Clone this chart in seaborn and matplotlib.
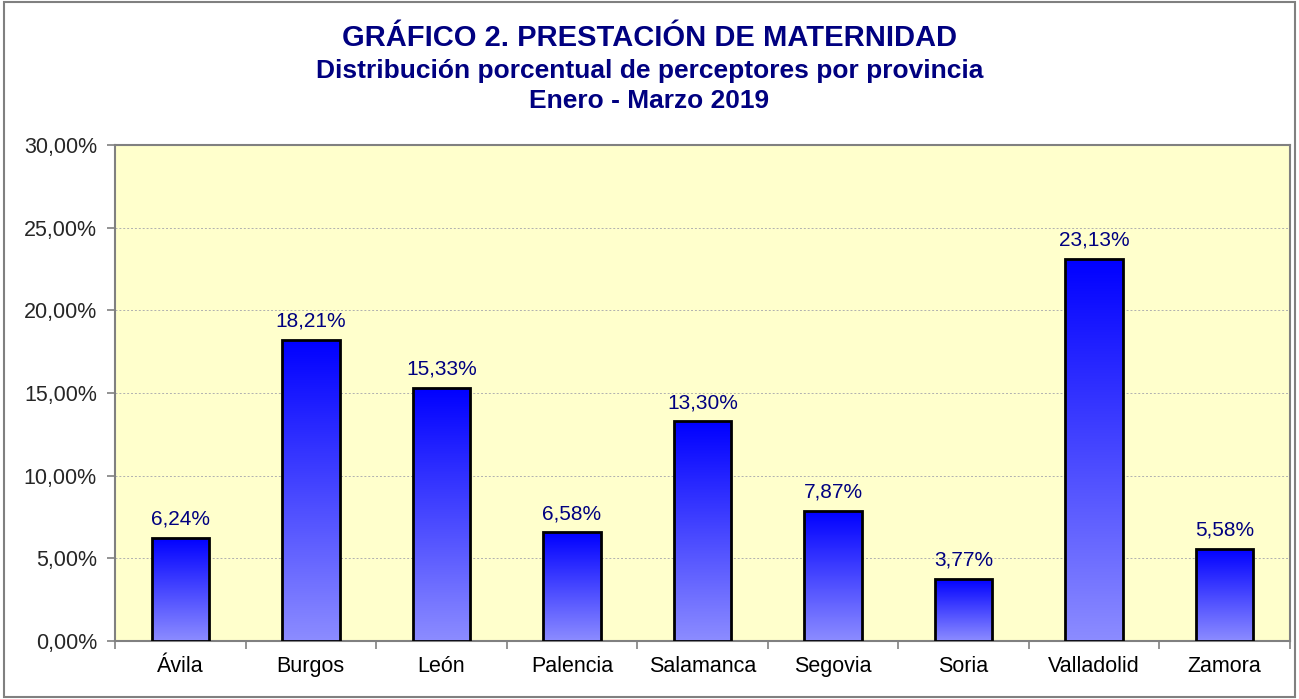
import matplotlib
matplotlib.use("Agg")
import matplotlib.pyplot as plt
import numpy as np
import pandas as pd
import seaborn as sns
from matplotlib.colors import LinearSegmentedColormap
from matplotlib.patches import Rectangle
from matplotlib.ticker import FuncFormatter, FixedLocator

provincias = ["Ávila", "Burgos", "León", "Palencia", "Salamanca", "Segovia", "Soria", "Valladolid", "Zamora"]
porcentajes = [6.24, 18.21, 15.33, 6.58, 13.30, 7.87, 3.77, 23.13, 5.58]

titulo = "GRÁFICO 2. PRESTACIÓN DE MATERNIDAD"
subtitulo = "Distribución porcentual de perceptores por provincia"
periodo = "Enero - Marzo 2019"

sns.set_style("white")
plt.rcParams["font.family"] = ["Liberation Sans", "DejaVu Sans"]

df = pd.DataFrame({"Provincia": provincias, "Porcentaje": porcentajes})

fig = plt.figure(figsize=(12.99, 6.99), dpi=100)
ax = fig.add_axes([0.0885, 0.083, 0.9045, 0.7095])
ax.set_facecolor("#FFFFCC")

sns.barplot(data=df, x="Provincia", y="Porcentaje", color="#0000FF", width=0.44, ax=ax, zorder=3)

# degradado vertical en cada barra
azul = LinearSegmentedColormap.from_list("azul", ["#8C8CFF", "#0000FF"])
grad = np.linspace(0, 1, 256).reshape(-1, 1)
for p in ax.patches:
    x0, y0 = p.get_x(), p.get_y()
    w, h = p.get_width(), p.get_height()
    im = ax.imshow(grad, extent=[x0, x0 + w, y0, y0 + h], origin="lower", aspect="auto",
                   cmap=azul, zorder=3)
    im.set_clip_path(p)
    p.set_facecolor("none")
    p.set_edgecolor("black")
    p.set_linewidth(2.0)
    p.set_zorder(4)
    ax.text(x0 + w / 2, h + 0.55, f"{h:.2f}%".replace(".", ","), ha="center", va="bottom",
            color="#000080", fontsize=15, zorder=5)

ax.set_xlim(-0.5, len(provincias) - 0.5)
ax.set_ylim(0, 30)
ax.set_yticks(np.arange(0, 31, 5))
ax.yaxis.set_major_formatter(FuncFormatter(lambda v, _: f"{v:.2f}%".replace(".", ",")))
ax.yaxis.grid(True, linestyle=(0, (2, 2)), color="#B0B0B0", linewidth=0.7, zorder=1)
ax.set_axisbelow(True)
ax.set_xlabel("")
ax.set_ylabel("")

ax.tick_params(axis="x", which="major", length=0, labelsize=15.5, pad=11, labelcolor="black")
ax.xaxis.set_minor_locator(FixedLocator(np.arange(-0.5, len(provincias), 1.0)))
ax.tick_params(axis="x", which="minor", bottom=True, length=6, color="#808080", width=1.2)
ax.tick_params(axis="y", left=True, length=6, color="#808080", width=1.2, labelsize=15.5, pad=7)

for side in ["left", "bottom", "top", "right"]:
    ax.spines[side].set_visible(True)
    ax.spines[side].set_color("#808080")
    ax.spines[side].set_linewidth(1.5)

fig.text(0.5, 0.946, titulo, ha="center", va="center", fontsize=21, fontweight="bold", color="#000080")
fig.text(0.5, 0.899, subtitulo, ha="center", va="center", fontsize=19, fontweight="bold", color="#000080")
fig.text(0.5, 0.856, periodo, ha="center", va="center", fontsize=19, fontweight="bold", color="#000080")

fig.patches.append(Rectangle((0.003, 0.003), 0.994, 0.994, transform=fig.transFigure,
                             fill=False, edgecolor="#808080", linewidth=1.5))

fig.savefig("out.png", dpi=100)
